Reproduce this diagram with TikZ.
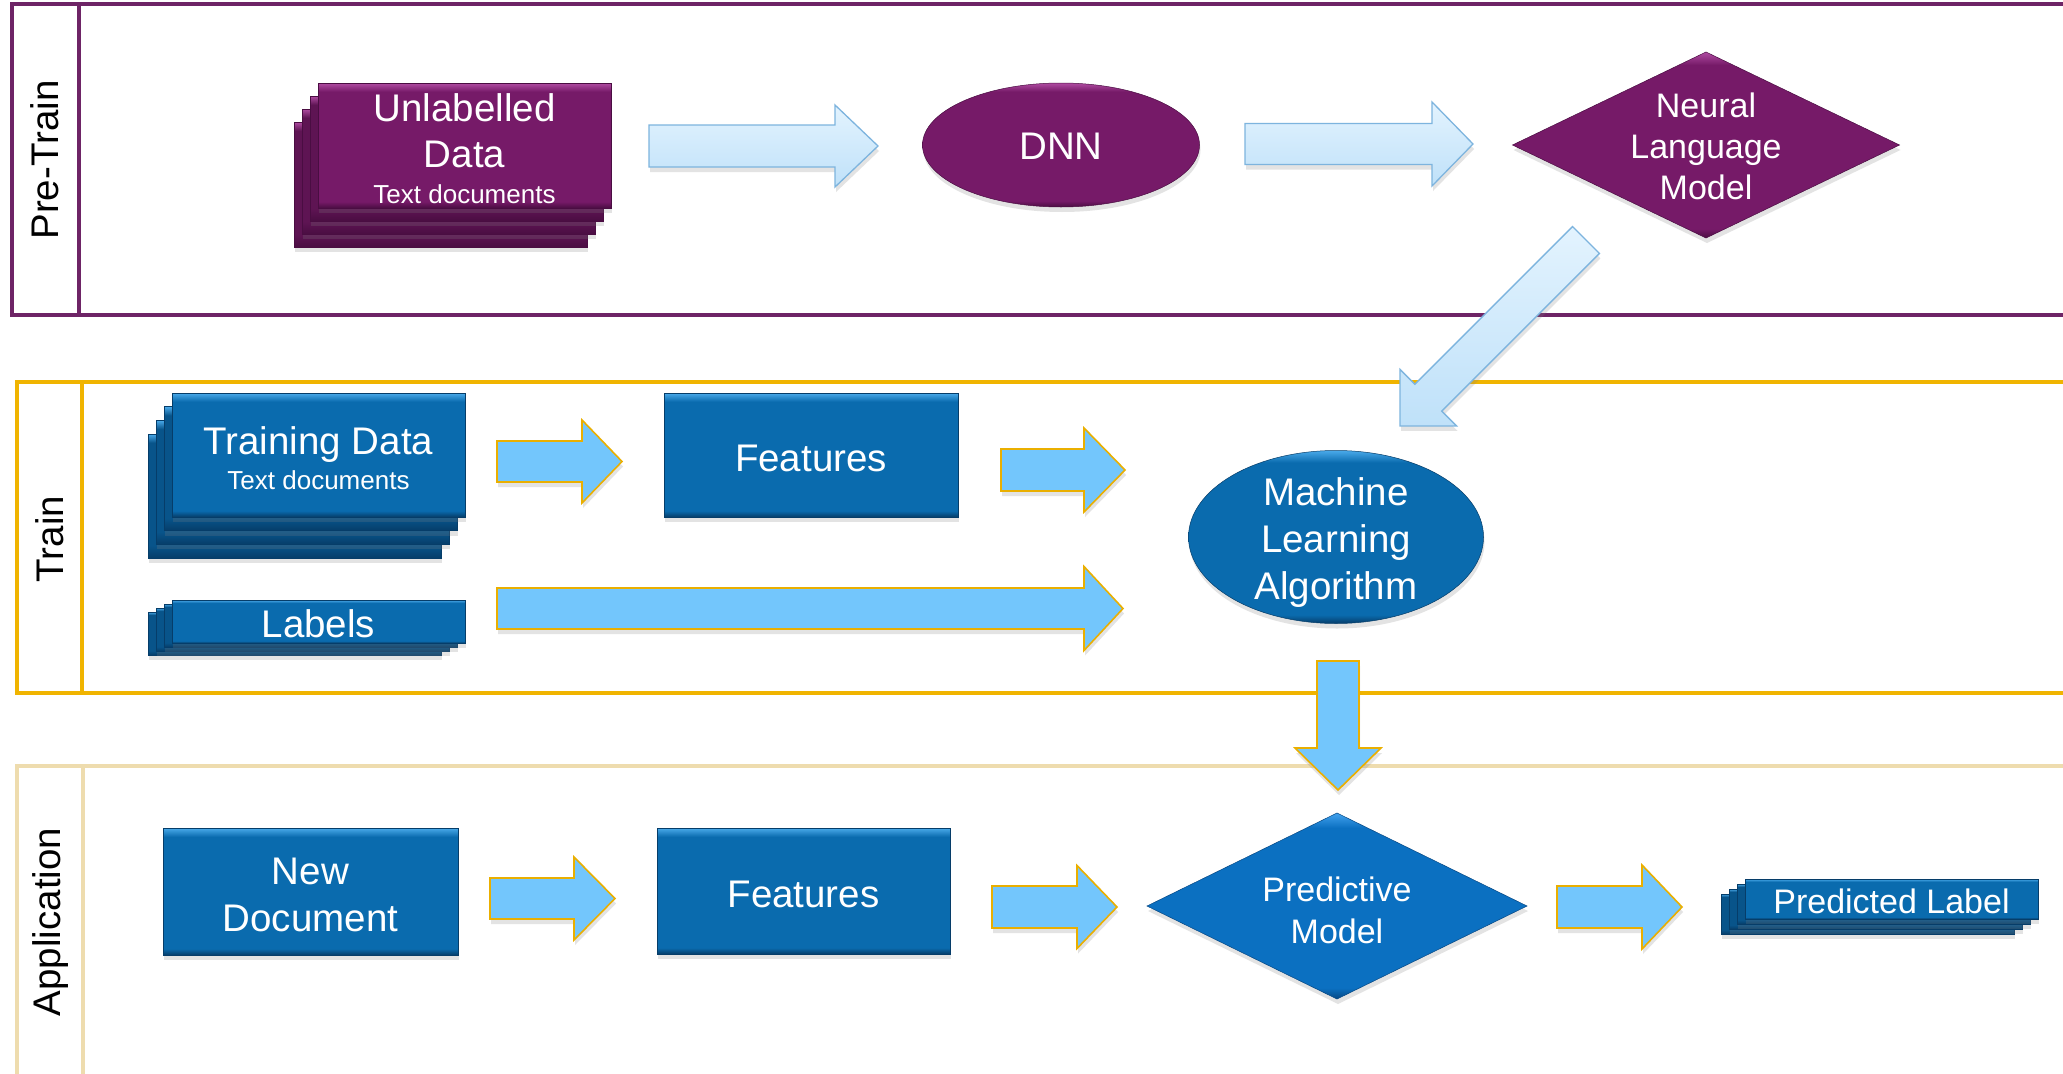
\documentclass[tikz,border=0pt]{standalone}
\usepackage{fontspec}
\setmainfont{Liberation Sans}
\usetikzlibrary{shapes.geometric,shadows}
\definecolor{lanepurple}{HTML}{6E2466}
\definecolor{lanegold}{HTML}{F0B400}
\definecolor{lanetan}{HTML}{EEDCAE}
\definecolor{pbase}{HTML}{761A68}
\definecolor{plight}{HTML}{B04CA2}
\definecolor{pdark}{HTML}{4A0D42}
\definecolor{pbk}{HTML}{5E1453}
\definecolor{bbase}{HTML}{0A6BAE}
\definecolor{blight}{HTML}{4AAAEA}
\definecolor{bdark}{HTML}{063D69}
\definecolor{bbk}{HTML}{08548A}
\definecolor{mbase}{HTML}{0B70C1}
\definecolor{mlight}{HTML}{42A2EE}
\definecolor{mdark}{HTML}{064884}
\definecolor{lfillA}{HTML}{E3F3FE}
\definecolor{lfillB}{HTML}{BFE1F9}
\definecolor{ledge}{HTML}{7DB4DE}
\definecolor{afill}{HTML}{73C6FC}
\definecolor{aedge}{HTML}{EAAF00}
\pgfdeclareverticalshading{pbevel}{100bp}{color(0bp)=(pdark); color(25bp)=(pdark); color(27.5bp)=(pbase); color(71.5bp)=(pbase); color(75bp)=(plight); color(100bp)=(plight)}
\pgfdeclareverticalshading{pbackbevel}{100bp}{color(0bp)=(pdark); color(25bp)=(pdark); color(30bp)=(pbk); color(71.5bp)=(pbk); color(75bp)=(plight); color(100bp)=(plight)}
\pgfdeclareverticalshading{bbevel}{100bp}{color(0bp)=(bdark); color(25bp)=(bdark); color(27.5bp)=(bbase); color(71.5bp)=(bbase); color(75bp)=(blight); color(100bp)=(blight)}
\pgfdeclareverticalshading{bbackbevel}{100bp}{color(0bp)=(bdark); color(25bp)=(bdark); color(30bp)=(bbk); color(71.5bp)=(bbk); color(75bp)=(blight); color(100bp)=(blight)}
\pgfdeclareverticalshading{mbevel}{100bp}{color(0bp)=(mdark); color(25bp)=(mdark); color(28bp)=(mbase); color(71bp)=(mbase); color(75bp)=(mlight); color(100bp)=(mlight)}
\newcommand{\hblockarrow}[7]{%
  \path[#1] (#2,#5-#6) -- (#3,#5-#6) -- (#3,#5-#7) -- (#4,#5) -- (#3,#5+#7) -- (#3,#5+#6) -- (#2,#5+#6) -- cycle;}
\newcommand{\dn}[1]{\raisebox{-3.5pt}[\height][\depth]{#1}}
\begin{document}
\begin{tikzpicture}[x=1pt,y=-1pt,
  every node/.style={inner sep=0pt, outer sep=0pt},
  lane/.style={line width=4pt},
  lanelabel/.style={rotate=90, font=\fontsize{38.5}{46}\selectfont, text=black},
  shad/.style={drop shadow={opacity=0.22, shadow xshift=1pt, shadow yshift=-5pt}},
  ntext/.style={text=white, align=center, font=\fontsize{38.5}{47}\selectfont},
  pbox/.style={shade, shading=pbevel, draw=pdark, line width=0.5pt, minimum width=293pt, minimum height=125pt, text=white, align=center, font=\fontsize{38.5}{46}\selectfont, shad},
  pback/.style={shade, shading=pbackbevel, draw=pdark, line width=0.5pt, minimum width=293pt, minimum height=125pt, shad},
  bbox/.style={shade, shading=bbevel, draw=bdark, line width=0.5pt, minimum width=293pt, minimum height=124pt, text=white, align=center, font=\fontsize{38.5}{47}\selectfont, shad},
  bback/.style={shade, shading=bbackbevel, draw=bdark, line width=0.5pt, minimum width=293pt, minimum height=124pt, shad},
  mbox/.style={shade, shading=mbevel, draw=mdark, line width=0.5pt, shad},
  larrow/.style={draw=ledge, line width=1.3pt, top color=lfillA, bottom color=lfillB, shad},
  barrow/.style={draw=aedge, line width=1.6pt, fill=afill, shad}
]
\useasboundingbox (0,0) rectangle (2063,1073);
\clip (0,0) rectangle (2063,1073);
\fill[white] (0,0) rectangle (2063,1073);

% swim lanes
\draw[lane, draw=lanepurple] (12,4) rectangle (2100,315);
\draw[lane, draw=lanepurple] (79,4) -- (79,315);
\draw[lane, draw=lanegold] (17,382) rectangle (2100,693);
\draw[lane, draw=lanegold] (82,382) -- (82,693);
\draw[lane, draw=lanetan] (17,766) rectangle (2100,1100);
\draw[lane, draw=lanetan] (83,766) -- (83,1100);
\node[lanelabel] (ptlab) at (45,160) {Pre-Train};
\node[lanelabel] (trlab) at (50,539) {Train};
\node[lanelabel] (aplab) at (51,922) {Application};

% block arrows
\hblockarrow{larrow}{649}{835}{878}{146}{21}{41}
\hblockarrow{larrow}{1245}{1432}{1473}{144}{20.5}{42}
\begin{scope}[shift={(1586,240)}, rotate=225]
  \path[larrow] (0,-19) -- (223,-19) -- (223,-40) -- (263,0) -- (223,40) -- (223,19) -- (0,19) -- cycle;
\end{scope}
\hblockarrow{barrow}{497}{582}{622}{461.5}{20.5}{41.5}
\hblockarrow{barrow}{1001}{1084}{1125}{470}{21}{42}
\hblockarrow{barrow}{497}{1084}{1123}{608.5}{20.5}{42}
\path[barrow] (1317,661) -- (1359,661) -- (1359,748) -- (1381,748) -- (1338,790) -- (1295,748) -- (1317,748) -- cycle;
\hblockarrow{barrow}{490}{574}{615}{898.5}{20.5}{41.5}
\hblockarrow{barrow}{992}{1077}{1117}{907}{21}{41.5}
\hblockarrow{barrow}{1557}{1642}{1682}{907}{21}{42}

% Pre-Train nodes
\node[pback] (ud3) at (440.5,184.5) {};
\node[pback] (ud2) at (448.5,171.5) {};
\node[pback] (ud1) at (456.5,158.5) {};
\node[pbox] (ud) at (464.5,145.5) {\dn{Unlabelled}\\\dn{Data}\\[-10pt]\dn{\fontsize{26}{30}\selectfont Text documents}};
\node[pbox, ellipse, minimum width=277pt, minimum height=124pt] (dnn) at (1061,145) {\raisebox{-1.5pt}[\height][\depth]{DNN}};
\node[pbox, diamond, minimum width=387pt, minimum height=186pt] (nlm) at (1706,145) {};
\node[ntext, font=\fontsize{34}{41}\selectfont] (nlmt) at (1706,146) {Neural\\Language\\Model};

% Train nodes
\node[bback] (td3) at (294.5,496) {};
\node[bback] (td2) at (302.5,482.4) {};
\node[bback] (td1) at (310.5,468.7) {};
\node[bbox] (td) at (318.5,455) {\dn{Training Data}\\[-12pt]\dn{\fontsize{26}{30}\selectfont Text documents}};
\node[bbox, minimum width=294pt] (f1) at (811,455) {\dn{Features}};
\node[bback, minimum height=43pt] (lb3) at (294.5,633.5) {};
\node[bback, minimum height=43pt] (lb2) at (302.5,629.5) {};
\node[bback, minimum height=43pt] (lb1) at (310.5,625.5) {};
\node[bbox, minimum height=43pt] (lb) at (318.5,621.5) {\raisebox{-2pt}[\height][\depth]{Labels}};
\node[bbox, ellipse, minimum width=295pt, minimum height=173pt] (ml) at (1336,537) {};
\node[ntext] (mlt) at (1336,543) {Machine\\Learning\\Algorithm};

% Application nodes
\node[bbox, minimum width=295pt, minimum height=127pt] (nd) at (310.5,891.5) {\dn{New}\\\dn{Document}};
\node[bbox, minimum height=126pt] (f2) at (803.5,891) {\dn{Features}};
\node[mbox, diamond, minimum width=380pt, minimum height=186pt] (pm) at (1337,906) {};
\node[ntext, font=\fontsize{34}{42}\selectfont] (pmt) at (1337,910) {Predictive\\Model};
\node[bback, minimum height=40pt] (pl3) at (1867.5,914) {};
\node[bback, minimum height=40pt] (pl2) at (1875.5,909) {};
\node[bback, minimum height=40pt] (pl1) at (1883.5,904) {};
\node[bbox, minimum height=40pt, font=\fontsize{34}{40}\selectfont] (pl) at (1891.5,899) {\raisebox{-2.5pt}[\height][\depth]{Predicted Label}};
\end{tikzpicture}
\end{document}
